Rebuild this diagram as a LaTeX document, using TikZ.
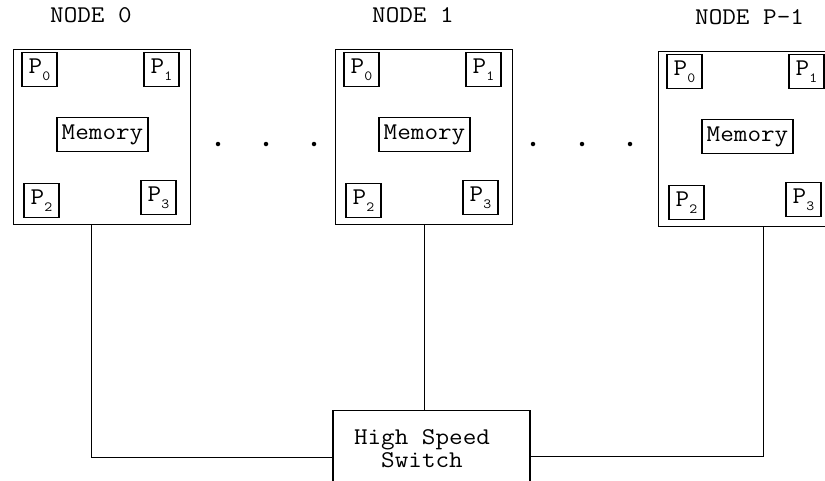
\documentclass[tikz,border=0pt]{standalone}
\usepackage{fontspec}
\setmonofont{Latin Modern Mono}[FakeStretch=1.1]
\newcommand\procsub[1]{P\raisebox{-7pt}{\fontsize{14}{14}\selectfont #1}}
\tikzset{
  lw/.style={line width=1.3pt},
  outerbox/.style={draw, lw, rectangle, minimum width=177pt, minimum height=175pt, inner sep=0pt},
  pbox/.style={draw, lw, rectangle, minimum width=35pt, minimum height=34pt, inner sep=0pt},
  membox/.style={draw, lw, rectangle, minimum width=91pt, minimum height=34pt, inner sep=0pt},
  dotnode/.style={circle, fill=black, inner sep=0pt, minimum size=4.5pt},
  conn/.style={lw},
  pics/smp/.style={code={
    \node[outerbox, anchor=north west] (-box) at (0,0) {};
    \node[anchor=base west, inner sep=0pt] (-label) at (37,-27) {#1};
    \node[pbox] (-p0) at (26.5,20.5) {\procsub{0}};
    \node[pbox] (-p1) at (148.5,20.5) {\procsub{1}};
    \node[membox] (-mem) at (89.5,85.5) {Memory};
    \node[pbox] (-p2) at (28.5,151.5) {\procsub{2}};
    \node[pbox] (-p3) at (145.5,148.5) {\procsub{3}};
  }}
}
\begin{document}
\begin{tikzpicture}[x=1pt, y=-1pt, font=\ttfamily\fontsize{24}{23}\selectfont]
\clip (0,0) rectangle (825,480);
\useasboundingbox (0,0) rectangle (825,480);
\pic (n0) at (13,49) {smp={NODE 0}};
\pic (n1) at (335,49) {smp={NODE 1}};
\pic (np) at (658,51) {smp={NODE P-1}};
\node[dotnode] (d1) at (218,144) {};
\node[dotnode] (d2) at (266,144) {};
\node[dotnode] (d3) at (314,144) {};
\node[dotnode] (d4) at (533,144) {};
\node[dotnode] (d5) at (582,144) {};
\node[dotnode] (d6) at (630,144) {};
\node[draw, lw, rectangle, minimum width=197pt, minimum height=80pt, anchor=north, inner sep=0pt] (sw) at (431.5,410) {};
\node[align=center, inner sep=0pt] (swt) at (422,449) {High Speed\\Switch};
\draw[conn] ([xshift=-10.5pt]n0-box.south) |- ([yshift=-7pt]sw.west);
\draw[conn] (n1-box.south) -- (n1-box.south |- sw.north);
\draw[conn] ([xshift=16.5pt]np-box.south) |- ([yshift=-6pt]sw.east);
\end{tikzpicture}
\end{document}
